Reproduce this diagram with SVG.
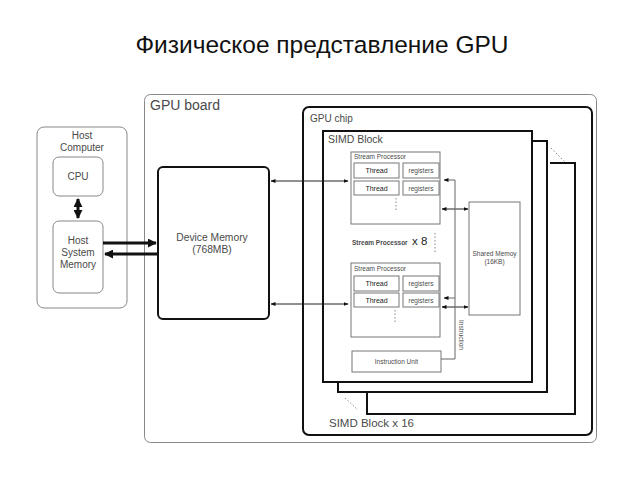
<svg xmlns="http://www.w3.org/2000/svg" width="640" height="480" viewBox="0 0 640 480">
<style>
text{font-family:"Liberation Sans",Arial,sans-serif;fill:#4a4a4a}
.thin{fill:#fff;stroke:#777;stroke-width:1}
.grey{fill:#fff;stroke:#888;stroke-width:1}
.bold{fill:none;stroke:#111;stroke-width:2}
.line{fill:none;stroke:#222;stroke-width:1}
.dots{fill:none;stroke:#888;stroke-width:1;stroke-dasharray:1.5 2}
</style>
<defs>
<marker id="ah" viewBox="0 0 10 10" refX="9" refY="5" markerWidth="5" markerHeight="5" orient="auto-start-reverse"><path d="M0,1 L10,5 L0,9 z" fill="#111"/></marker>
<marker id="ahb" viewBox="0 0 10 10" refX="9" refY="5" markerWidth="3" markerHeight="3" orient="auto-start-reverse"><path d="M0,0 L10,5 L0,10 z" fill="#111"/></marker>
</defs>
<rect width="640" height="480" fill="#fff"/>
<text x="322" y="53" font-size="24.5" text-anchor="middle" style="fill:#111">Физическое представление GPU</text>

<g id="host">
<rect class="grey" x="37" y="127" width="90" height="181" rx="7"/>
<text x="82" y="139" font-size="10" text-anchor="middle">Host</text>
<text x="82" y="151" font-size="10" text-anchor="middle">Computer</text>
</g>
<g id="cpu">
<rect class="grey" x="53" y="157" width="50" height="39" rx="6"/>
<text x="78" y="180" font-size="10" text-anchor="middle">CPU</text>
</g>
<g id="hsm">
<rect class="grey" x="53" y="221" width="50" height="72" rx="6"/>
<text x="78" y="244" font-size="10" text-anchor="middle">Host</text>
<text x="78" y="256" font-size="10" text-anchor="middle">System</text>
<text x="78" y="268" font-size="10" text-anchor="middle">Memory</text>
</g>

<g id="gpuboard">
<rect class="grey" x="144.5" y="94.5" width="452" height="348" rx="6"/>
<text x="150" y="110" font-size="14">GPU board</text>
</g>
<g id="gpuchip">
<rect class="bold" x="303" y="107" width="289" height="328" rx="6"/>
<text x="310" y="122" font-size="10">GPU chip</text>
<text x="329" y="427" font-size="11.5">SIMD Block x 16</text>
</g>
<g id="simd3">
<polyline class="bold" points="550,163 575,163 575,414 367,414 367,392"/>
</g>
<g id="simd2">
<polyline class="bold" points="532,141 547,141 547,392 338,392 338,382"/>
</g>
<line class="dots" x1="551" y1="148" x2="565" y2="162"/>
<line class="dots" x1="345" y1="398" x2="358" y2="410"/>
<g id="simd1">
<rect class="bold" x="323" y="131" width="209" height="251" fill="#fff"/>
<text x="328" y="143" font-size="10.5">SIMD Block</text>
</g>

<g id="devmem">
<rect class="bold" x="158" y="167" width="111" height="152" rx="5" fill="#fff"/>
<text x="212" y="241" font-size="10.3" text-anchor="middle">Device Memory</text>
<text x="212" y="253" font-size="10.3" text-anchor="middle">(768MB)</text>
</g>

<g id="sp1">
<rect class="thin" x="351" y="152" width="89" height="72"/>
<text x="354" y="159" font-size="6.5">Stream Processor</text>
<rect class="thin" x="354" y="163" width="45" height="15"/>
<text x="376.5" y="173" font-size="7" text-anchor="middle" style="fill:#222">Thread</text>
<rect class="thin" x="403" y="163" width="36" height="15"/>
<text x="421" y="173" font-size="6.5" text-anchor="middle">registers</text>
<rect class="thin" x="354" y="181" width="45" height="14"/>
<text x="376.5" y="191" font-size="7" text-anchor="middle" style="fill:#222">Thread</text>
<rect class="thin" x="403" y="181" width="36" height="14"/>
<text x="421" y="191" font-size="6.5" text-anchor="middle">registers</text>
<line class="dots" x1="396" y1="198" x2="396" y2="212"/>
</g>

<g id="spx8">
<text x="352" y="245" font-size="6.5" font-weight="bold">Stream Processor</text>
<text x="412" y="245" font-size="11.5" style="fill:#222">x 8</text>
<line class="dots" x1="435" y1="233" x2="435" y2="253"/>
</g>

<g id="sp2">
<rect class="thin" x="351" y="263" width="89" height="74"/>
<text x="354" y="271" font-size="6.5">Stream Processor</text>
<rect class="thin" x="354" y="276" width="45" height="15"/>
<text x="376.5" y="286" font-size="7" text-anchor="middle" style="fill:#222">Thread</text>
<rect class="thin" x="403" y="276" width="36" height="15"/>
<text x="421" y="286" font-size="6.5" text-anchor="middle">registers</text>
<rect class="thin" x="354" y="293" width="45" height="14"/>
<text x="376.5" y="303" font-size="7" text-anchor="middle" style="fill:#222">Thread</text>
<rect class="thin" x="403" y="293" width="36" height="14"/>
<text x="421" y="303" font-size="6.5" text-anchor="middle">registers</text>
<line class="dots" x1="395" y1="310" x2="395" y2="323"/>
</g>

<g id="iu">
<rect class="thin" x="352" y="351" width="89" height="21"/>
<text x="396.5" y="364" font-size="6.5" text-anchor="middle">Instruction Unit</text>
</g>

<g id="shmem">
<rect class="thin" x="469" y="202" width="51" height="113"/>
<text x="494.5" y="256" font-size="6.5" text-anchor="middle">Shared Memoy</text>
<text x="494.5" y="264" font-size="6.5" text-anchor="middle">(16KB)</text>
</g>

<g id="connectors">
<line x1="78" y1="199" x2="78" y2="218" stroke="#111" stroke-width="3" marker-start="url(#ahb)" marker-end="url(#ahb)"/>
<line x1="103" y1="243" x2="156" y2="243" stroke="#111" stroke-width="3" marker-end="url(#ahb)"/>
<line x1="158" y1="254" x2="105" y2="254" stroke="#111" stroke-width="3" marker-end="url(#ahb)"/>
<line class="line" x1="271" y1="181" x2="348" y2="181" marker-start="url(#ah)" marker-end="url(#ah)"/>
<line class="line" x1="271" y1="304" x2="348" y2="304" marker-start="url(#ah)" marker-end="url(#ah)"/>
<line class="line" x1="442" y1="209" x2="468" y2="209" marker-start="url(#ah)" marker-end="url(#ah)"/>
<line class="line" x1="442" y1="307" x2="468" y2="307" marker-start="url(#ah)" marker-end="url(#ah)"/>
<polyline fill="none" stroke="#666" stroke-width="1" points="441,359 455,359 455,180 444,180" marker-end="url(#ah)"/>
<polyline fill="none" stroke="#666" stroke-width="1" points="455,298 444,298" marker-end="url(#ah)"/>
<text transform="translate(459,320) rotate(90)" font-size="6.5">Instruction</text>
</g>
</svg>
